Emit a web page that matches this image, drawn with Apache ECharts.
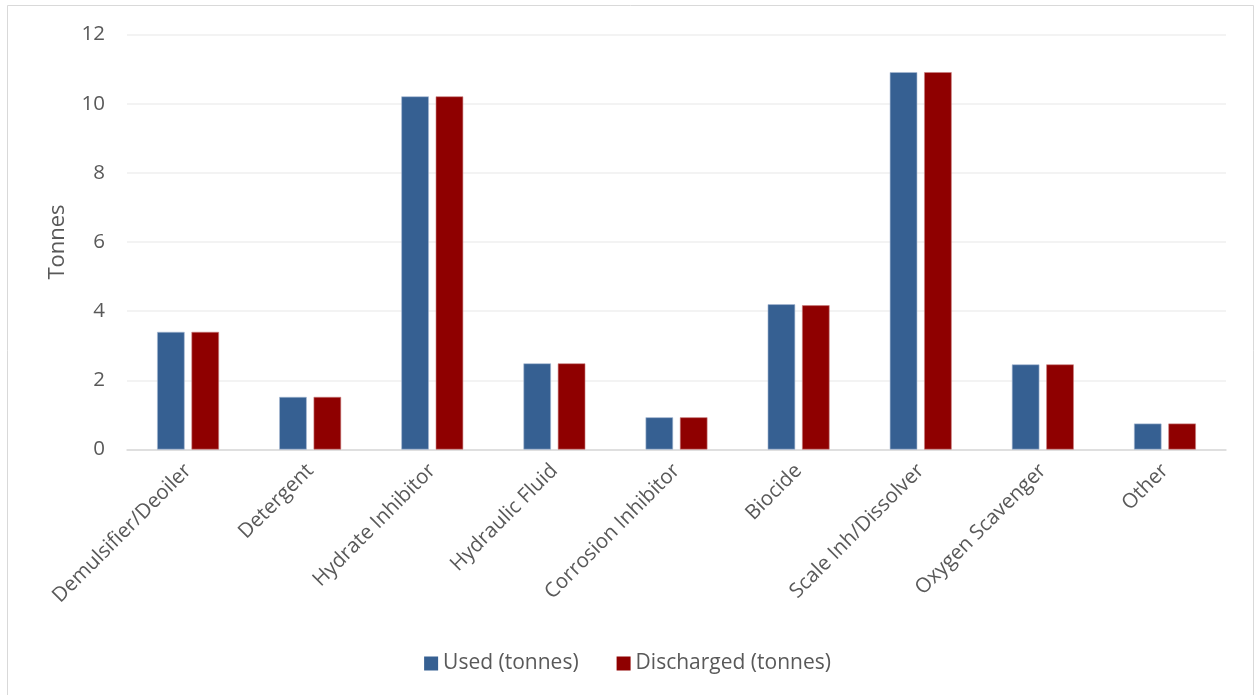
<!DOCTYPE html>
<html>
<head>
<meta charset="utf-8">
<script src="https://cdn.jsdelivr.net/npm/echarts@6/dist/echarts.min.js"></script>
<style>
  html, body { margin: 0; padding: 0; background: #ffffff; }
  #chart { width: 1255px; height: 695px; }
</style>
</head>
<body>
<div id="chart"></div>
<script>
// Chemical use and discharge by function, in tonnes
const categories = [
  'Demulsifier/Deoiler', 'Detergent', 'Hydrate Inhibitor', 'Hydraulic Fluid',
  'Corrosion Inhibitor', 'Biocide', 'Scale Inh/Dissolver', 'Oxygen Scavenger', 'Other'
];
const usedTonnes       = [3.40, 1.52, 10.21, 2.49, 0.93, 4.20, 10.91, 2.46, 0.75];
const dischargedTonnes = [3.40, 1.52, 10.21, 2.49, 0.93, 4.17, 10.91, 2.46, 0.75];
const seriesNames = ['Used (tonnes)', 'Discharged (tonnes)'];
const yTicks = { min: 0, max: 12, interval: 2 };

const FONT = '"Open Sans", "Noto Sans", sans-serif';
const TEXT = '#595959';

const chart = echarts.init(document.getElementById('chart'), null, { renderer: 'canvas' });

chart.setOption({
  backgroundColor: '#ffffff',
  animation: false,
  textStyle: { fontFamily: FONT, color: TEXT },
  graphic: [{
    type: 'rect',
    shape: { x: 7.5, y: 5.5, width: 1246, height: 700 },
    style: { fill: 'none', stroke: '#d9d9d9', lineWidth: 1 },
    silent: true
  }],
  grid: { left: 127, right: 29, top: 34.5, bottom: 245.5, containLabel: false },
  legend: {
    bottom: 16,
    left: 'center',
    itemWidth: 14,
    itemHeight: 14,
    itemGap: 38,
    icon: 'rect',
    itemStyle: { borderWidth: 0 },
    textStyle: { fontFamily: FONT, fontSize: 21, color: TEXT },
    data: seriesNames
  },
  xAxis: {
    type: 'category',
    data: categories,
    axisLine: { lineStyle: { color: '#d9d9d9', width: 1.5 } },
    axisTick: { show: false },
    axisLabel: {
      rotate: 45,
      interval: 0,
      margin: 18,
      fontFamily: FONT,
      fontSize: 20.5,
      color: TEXT
    }
  },
  yAxis: {
    type: 'value',
    min: yTicks.min,
    max: yTicks.max,
    interval: yTicks.interval,
    name: 'Tonnes',
    nameLocation: 'middle',
    nameGap: 58,
    nameRotate: 90,
    nameTextStyle: { fontFamily: FONT, fontSize: 22, color: TEXT },
    axisLine: { show: false },
    axisTick: { show: false },
    axisLabel: { margin: 22, fontFamily: FONT, fontSize: 20.5, color: TEXT },
    splitLine: { lineStyle: { color: '#efefef', width: 1.5 } }
  },
  series: [
    {
      name: seriesNames[0],
      type: 'bar',
      data: usedTonnes,
      barWidth: 27.5,
      barGap: '25%',
      itemStyle: { color: '#366092', borderColor: '#a9bbd3', borderWidth: 0.6 }
    },
    {
      name: seriesNames[1],
      type: 'bar',
      data: dischargedTonnes,
      barWidth: 27.5,
      barGap: '25%',
      itemStyle: { color: '#8f0000', borderColor: '#c98080', borderWidth: 0.6 }
    }
  ]
});
</script>
</body>
</html>
